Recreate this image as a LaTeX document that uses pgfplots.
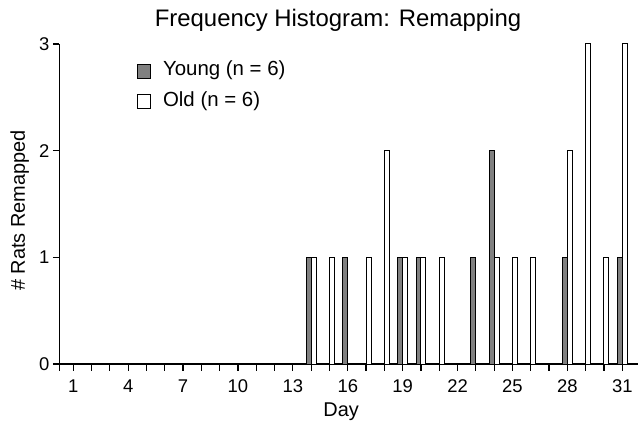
\documentclass[border=0pt]{standalone}
\usepackage{fontspec}
\setmainfont{Liberation Sans}
\usepackage{pgfplots}
\pgfplotsset{compat=1.18}
\definecolor{young}{gray}{0.5}

\begin{document}
\begin{tikzpicture}
  \path[use as bounding box] (-59.3bp,-57bp) rectangle (578.7bp,364bp);
  \begin{axis}[
      scale only axis,
      width=578.7bp, height=320bp,
      xmin=0.235, xmax=31.86, ymin=0, ymax=3,
      axis lines=left,
      axis line style={-, line width=1.2bp},
      tick align=outside,
      major tick length=6.5bp,
      tick style={black, line width=1.2bp},
      xtick={1,...,31},
      xticklabels={1,,,4,,,7,,,10,,,13,,,16,,,19,,,22,,,25,,,28,,,31},
      extra x ticks={0.235}, extra x tick labels={},
      ytick={0,1,2,3},
      /pgf/number format/assume math mode=true,
      ticklabel style={font=\fontsize{18.5}{22}\selectfont},
      xticklabel style={yshift=-5.5bp},
      title={Frequency Histogram: Remapping},
      title style={at={(axis description cs:0.4816,1.0375)}, anchor=base,
        font=\fontsize{24}{28}\selectfont},
      xlabel={Day},
      xlabel style={at={(axis description cs:0.487,-0.1625)}, anchor=base,
        font=\fontsize{20}{24}\selectfont},
      ylabel={\# Rats Remapped},
      ylabel style={at={(axis description cs:-0.0593,0.48)}, anchor=base,
        font=\fontsize{20}{24}\selectfont},
      legend style={at={(axis description cs:0.1337,0.947)}, anchor=north west,
        draw=none, fill=none, inner sep=0pt, row sep=12bp, column sep=11.7bp,
        nodes={inner sep=0pt, font=\fontsize{20.5}{24}\selectfont}},
      legend cell align=left,
      legend image code/.code={\draw[#1] (0bp,-9.5bp) rectangle (13.5bp,5bp);},
    ]
    % young rats, bars left of the day tick
    \addplot[ybar, bar width=0.27, bar shift=-0.135, fill=young, draw=black, line width=1bp]
      coordinates {(14,1) (16,1) (19,1) (20,1) (23,1) (24,2) (28,1) (31,1)};
    \addlegendentry{Young (n = 6)}
    % old rats, bars right of the day tick
    \addplot[ybar, bar width=0.27, bar shift=0.135, fill=white, draw=black, line width=1bp]
      coordinates {(14,1) (15,1) (17,1) (18,2) (19,1) (20,1) (21,1) (24,1)
                   (25,1) (26,1) (28,2) (29,3) (30,1) (31,3)};
    \addlegendentry{Old (n = 6)}
  \end{axis}
\end{tikzpicture}
\end{document}
